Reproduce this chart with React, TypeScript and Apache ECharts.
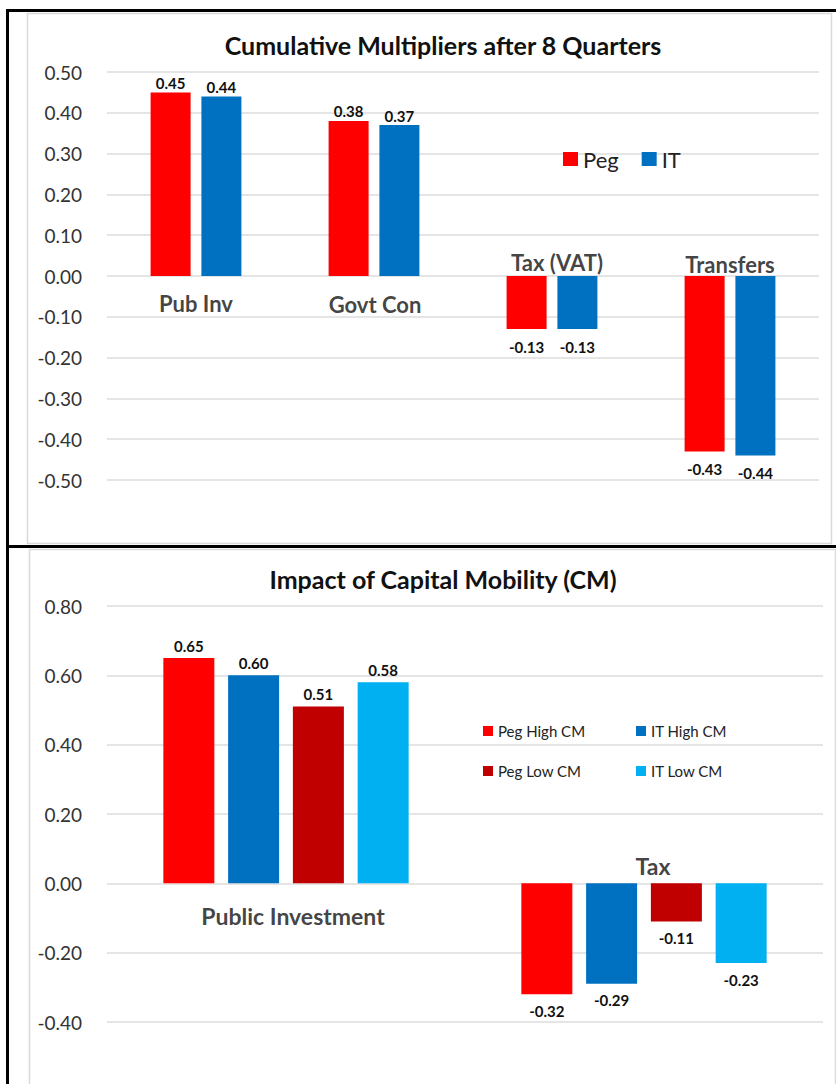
import React, { useEffect, useRef } from "react";
import * as echarts from "echarts";

const topCategories = ["Pub Inv", "Govt Con", "Tax (VAT)", "Transfers"];
const topPeg = [0.45, 0.38, -0.13, -0.43];
const topIT = [0.44, 0.37, -0.13, -0.44];
const topTicks = { min: -0.5, max: 0.5, interval: 0.1 };

const botCategories = ["Public Investment", "Tax"];
const pegHigh = [0.65, -0.32];
const itHigh = [0.6, -0.29];
const pegLow = [0.51, -0.11];
const itLow = [0.58, -0.23];
const botTicks = { min: -0.4, max: 0.8, interval: 0.2 };

const FONT = "Lato, 'Noto Sans', sans-serif";
const RED = "#FF0000";
const BLUE = "#0070C0";
const DARKRED = "#C00000";
const LIGHTBLUE = "#00B0F0";

function barData(vals: number[], posDist: number, negDist: number, fs: number) {
  return vals.map((v) => ({
    value: v,
    label: {
      show: true,
      position: v >= 0 ? "top" : "bottom",
      distance: v >= 0 ? posDist : negDist,
      formatter: () => v.toFixed(2),
      fontFamily: FONT,
      fontWeight: "bold",
      fontSize: fs,
      color: "#111",
    },
  }));
}

function catLabelSeries(
  cats: string[],
  offsets: number[][],
  xi: number,
  fs: number
) {
  return {
    type: "scatter",
    xAxisIndex: xi,
    yAxisIndex: xi,
    silent: true,
    symbolSize: 1,
    itemStyle: { color: "rgba(0,0,0,0)" },
    z: 5,
    data: cats.map((c, i) => ({
      value: [c, 0],
      label: {
        show: true,
        position: "inside",
        offset: offsets[i],
        formatter: c,
        fontFamily: FONT,
        fontWeight: "bold",
        fontSize: fs,
        color: "#111",
      },
    })),
  };
}

export default function App() {
  const ref = useRef<HTMLDivElement>(null);
  useEffect(() => {
    if (!ref.current) return;
    const chart = echarts.init(ref.current, undefined, { renderer: "svg" });
    const yAxisCommon = {
      type: "value",
      axisLine: { show: false },
      axisTick: { show: false },
      splitLine: { lineStyle: { color: "#dcdcdc", width: 1.5 } },
      axisLabel: {
        fontFamily: FONT,
        fontSize: 19,
        color: "#333",
        margin: 25,
        formatter: (v: number) => v.toFixed(2),
      },
    };
    const xAxisCommon = {
      type: "category",
      axisLine: { show: false },
      axisTick: { show: false },
      axisLabel: { show: false },
      splitLine: { show: false },
    };
    chart.setOption({
      animation: false,
      backgroundColor: "#fff",
      title: [
        {
          text: "Cumulative Multipliers after 8 Quarters",
          left: 443,
          top: 32,
          padding: 0,
          textAlign: "center",
          textStyle: { fontFamily: FONT, fontWeight: "bold", fontSize: 25, color: "#111" },
        },
        {
          text: "Impact of Capital Mobility (CM)",
          left: 443,
          top: 566,
          padding: 0,
          textAlign: "center",
          textStyle: { fontFamily: FONT, fontWeight: "bold", fontSize: 25, color: "#111" },
        },
      ],
      legend: [
        {
          data: ["Peg", "IT"],
          left: 563,
          top: 148,
          padding: 0,
          icon: "rect",
          itemWidth: 15,
          itemHeight: 14,
          itemGap: 23,
          textStyle: { fontFamily: FONT, fontSize: 22, color: "#222" },
        },
        {
          data: ["Peg High CM", "Peg Low CM"],
          orient: "vertical",
          left: 483,
          top: 722,
          padding: 0,
          icon: "rect",
          itemWidth: 10,
          itemHeight: 10,
          itemGap: 22,
          textStyle: { fontFamily: FONT, fontSize: 15, color: "#222", lineHeight: 18 },
        },
        {
          data: ["IT High CM", "IT Low CM"],
          orient: "vertical",
          left: 636,
          top: 722,
          padding: 0,
          icon: "rect",
          itemWidth: 10,
          itemHeight: 10,
          itemGap: 22,
          textStyle: { fontFamily: FONT, fontSize: 15, color: "#222", lineHeight: 18 },
        },
      ],
      grid: [
        { left: 107, right: 17, top: 72, height: 408 },
        { left: 107, right: 13, top: 606, height: 416 },
      ],
      xAxis: [
        { ...xAxisCommon, gridIndex: 0, data: topCategories },
        { ...xAxisCommon, gridIndex: 1, data: botCategories },
      ],
      yAxis: [
        { ...yAxisCommon, gridIndex: 0, ...topTicks },
        { ...yAxisCommon, gridIndex: 1, ...botTicks },
      ],
      series: [
        {
          name: "Peg",
          type: "bar",
          xAxisIndex: 0,
          yAxisIndex: 0,
          barWidth: 40,
          barGap: "27%",
          itemStyle: { color: RED },
          data: barData(topPeg, 2, 10, 15),
        },
        {
          name: "IT",
          type: "bar",
          xAxisIndex: 0,
          yAxisIndex: 0,
          barWidth: 40,
          barGap: "27%",
          itemStyle: { color: BLUE },
          data: barData(topIT, 2, 10, 15),
        },
        {
          name: "Peg High CM",
          type: "bar",
          xAxisIndex: 1,
          yAxisIndex: 1,
          barWidth: 51,
          barGap: "27%",
          itemStyle: { color: RED },
          data: barData(pegHigh, 5, 9, 15),
        },
        {
          name: "IT High CM",
          type: "bar",
          xAxisIndex: 1,
          yAxisIndex: 1,
          barWidth: 51,
          barGap: "27%",
          itemStyle: { color: BLUE },
          data: barData(itHigh, 5, 9, 15),
        },
        {
          name: "Peg Low CM",
          type: "bar",
          xAxisIndex: 1,
          yAxisIndex: 1,
          barWidth: 51,
          barGap: "27%",
          itemStyle: { color: DARKRED },
          data: barData(pegLow, 5, 9, 15),
        },
        {
          name: "IT Low CM",
          type: "bar",
          xAxisIndex: 1,
          yAxisIndex: 1,
          barWidth: 51,
          barGap: "27%",
          itemStyle: { color: LIGHTBLUE },
          data: barData(itLow, 5, 9, 15),
        },
        catLabelSeries(topCategories, [[0, 27], [1, 28], [5, -14], [0, -12]], 0, 22),
        catLabelSeries(botCategories, [[7, 33], [9, -17]], 1, 23),
      ],
      graphic: [
        {
          type: "rect",
          shape: { x: 27.5, y: 13.5, width: 804, height: 530 },
          style: { fill: "none", stroke: "#d9d9d9", lineWidth: 1.5 },
          silent: true,
          z: -10,
        },
        {
          type: "rect",
          shape: { x: 29.5, y: 549.5, width: 806, height: 560 },
          style: { fill: "none", stroke: "#d9d9d9", lineWidth: 1.5 },
          silent: true,
          z: -10,
        },
        {
          type: "rect",
          shape: { x: 6, y: 9, width: 840, height: 3 },
          style: { fill: "#000" },
          silent: true,
        },
        {
          type: "rect",
          shape: { x: 6, y: 9, width: 3, height: 1100 },
          style: { fill: "#000" },
          silent: true,
        },
        {
          type: "rect",
          shape: { x: 6, y: 545, width: 840, height: 3 },
          style: { fill: "#000" },
          silent: true,
        },
      ],
    });
    return () => chart.dispose();
  }, []);
  return (
    <div
      ref={ref}
      style={{ position: "absolute", left: 0, top: 0, width: 836, height: 1084 }}
    />
  );
}
